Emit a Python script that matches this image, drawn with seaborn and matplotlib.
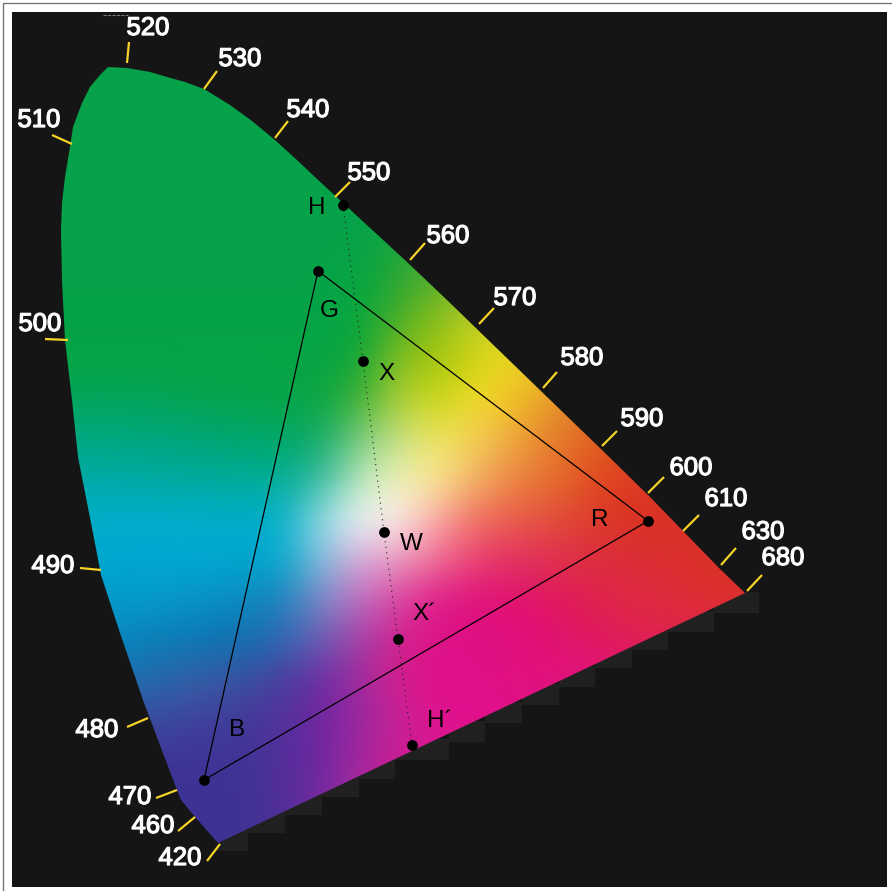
import numpy as np
import pandas as pd
import matplotlib
matplotlib.use('Agg')
import matplotlib.pyplot as plt
import matplotlib.patheffects as pe
from matplotlib.colors import to_rgb
from matplotlib.patches import Polygon, Rectangle
import seaborn as sns

G0 = '#06a24a'
# colour every 40 px (x 40..800, y 40..880)
row_040 = [G0] * 20
row_080 = [G0] * 20
row_120 = [G0] * 20
row_160 = [G0] * 20
row_200 = [G0] * 20
row_240 = [G0] * 9 + ['#1aa63c', '#40a836'] + ['#40a836'] * 9
row_280 = [G0] * 8 + ['#05a640', '#2ba635', '#5fb12c', '#80b828'] + ['#80b828'] * 8
row_320 = ['#05a447'] * 8 + ['#05a63e', '#50ae25', '#90c118', '#c8d030'] + ['#d8d020'] * 8
row_360 = ['#05a445'] * 8 + ['#11a638', '#8abf1e', '#a5c60d', '#d8d90e', '#eed82a', '#f3c020'] + ['#f0a020'] * 6
row_400 = ['#03a55a', '#02a55a', '#03a55c', '#04a558', '#05a550', '#06a54c', '#07a648', '#0aa545', '#40b030',
           '#b6d03a', '#ccd810', '#f8dc30', '#f0b820', '#e29030', '#e06a25'] + ['#e06a25'] * 5
row_440 = ['#00a882', '#00a882', '#00a880', '#00a680', '#00a577', '#00a66f', '#00a768', '#10aa68', '#7ccd82',
           '#c8e088', '#f4e660', '#f2cc58', '#eda03a', '#e5762a', '#e0601f', '#dc4a22'] + ['#dc4a22'] * 4
row_480 = ['#00aaa8', '#00aaa8', '#00a9a8', '#00aaa0', '#00aa9e', '#00ac98', '#00ae98', '#30b8a0', '#c0e8c0',
           '#f4f4b8', '#f8e890', '#f2aa60', '#ec8040', '#e56a2a', '#e0451f', '#dc3a22', '#dc3526'] + ['#dc3526'] * 3
row_520 = ['#00aec8', '#00aec8', '#00aed0', '#00aecf', '#00aecf', '#00aecc', '#00aece', '#95dce6', '#f4fafa',
           '#fdf0f0', '#fba0a0', '#f06a5a', '#e85a48', '#e04a38', '#db3a28', '#da3022', '#dc3226', '#dc3226'] + ['#dc3226'] * 2
row_560 = ['#00a8cc', '#00a8cc', '#00a6d0', '#00a8d0', '#00a8d0', '#00a8d0', '#00a8cc', '#80c0dc', '#dca8dc',
           '#e898b8', '#f06a90', '#e83c70', '#e13060', '#e03050', '#dd2e40', '#db2e35', '#dc3030', '#dc3228'] + ['#dc3228'] * 2
row_600 = ['#009ccc', '#009ccc', '#049ccc', '#089ac8', '#0a92c4', '#0c8abf', '#1a80bc', '#7a88c8', '#c070c0',
           '#de40a0', '#dc1888', '#e0107a', '#e01070', '#e01858', '#e0224c', '#e02a44', '#de2d38', '#dd302e'] + ['#dd302e'] * 2
row_640 = ['#0a84bc', '#0a84bc', '#0a84bc', '#0a7cb6', '#0a76b4', '#1070b0', '#2a68b0', '#6a60b4', '#a43fa8',
           '#d0208c', '#e01088', '#e01086', '#e0107e', '#e01470', '#e01a60', '#e02050'] + ['#e02050'] * 4
row_680 = ['#1a70b0', '#1a70b0', '#1a70b0', '#2868a8', '#3a5ea4', '#3a52a0', '#4a3e9c', '#6a2aa0', '#a12ba0',
           '#d81e88', '#e0108a', '#e0108a', '#e0127c'] + ['#e0127c'] * 7
row_720 = ['#3c4a9e'] * 4 + ['#40409c', '#403a98', '#50329c', '#7026a0', '#9a28a0', '#c72498', '#e0108c'] + ['#e0108c'] * 9
row_760 = ['#3e3496'] * 5 + ['#403496', '#50309a', '#7026a0', '#a428a0', '#d01a90', '#d8188c'] + ['#d8188c'] * 9
row_800 = ['#3d3394'] * 6 + ['#4f2f98', '#7028a0', '#a82a9c', '#d01a90'] + ['#d01a90'] * 10
row_840 = list(row_800)
row_880 = list(row_800)
colour_rows = [row_040, row_080, row_120, row_160, row_200, row_240, row_280, row_320, row_360, row_400, row_440,
               row_480, row_520, row_560, row_600, row_640, row_680, row_720, row_760, row_800, row_840, row_880]

locus_x = [108, 127, 150, 167, 185, 204, 230, 252, 275, 298, 316, 343, 407, 447, 480, 543, 602, 650, 684, 720, 745,
           218, 195, 181, 177, 158, 143, 120, 101, 93, 78, 72, 65, 62, 61, 62, 65, 70, 73, 82, 90, 100]
locus_y = [67, 68, 72, 77, 82, 89, 105, 121, 140, 161, 178, 203, 262, 300, 332, 393, 450, 497, 532, 569, 593,
           843, 817, 800, 790, 740, 700, 633, 575, 533, 457, 400, 340, 280, 230, 203, 177, 147, 127, 103, 87, 75]

wave_labels = ['520', '530', '540', '550', '560', '570', '580', '590', '600', '610', '630', '680',
               '510', '500', '490', '480', '470', '460', '420']
label_x = [148, 240, 308, 369, 448, 515, 582, 642, 691, 726, 763, 783, 39, 40, 53, 97, 130, 153, 180]
label_y = [28, 59, 110, 173, 236, 298, 358, 419, 468, 499, 532, 558, 120, 324, 566, 730, 797, 826, 858]
tick_x0 = [129, 217, 288, 350, 425, 494, 557, 617, 664, 699, 736, 762, 52, 45, 80, 127, 156, 178, 207]
tick_y0 = [42, 71, 121, 182, 243, 308, 372, 431, 477, 515, 548, 575, 135, 339, 568, 727, 798, 831, 861]
tick_x1 = [127, 204, 275, 335, 410, 479, 543, 602, 648, 683, 721, 747, 72, 68, 101, 148, 177, 195, 220]
tick_y1 = [63, 89, 138, 197, 260, 324, 388, 446, 493, 531, 565, 591, 144, 340, 570, 718, 790, 817, 844]

point_names = ['G', 'H', 'X', 'W', 'X´', 'H´', 'R', 'B']
point_x = [318, 343, 363, 384, 398, 412, 648, 204]
point_y = [271, 205, 361, 532, 639, 745, 521, 780]
name_x = [329, 317, 387, 411, 425, 440, 600, 237]
name_y = [311, 208, 374, 544, 614, 721, 520, 730]

# shadow steps under the purple edge
step_right = [759, 714, 668, 632, 595, 559, 522, 485, 449, 395, 359, 322, 285, 248]
step_bottom = [613, 632, 650, 668, 687, 705, 723, 742, 760, 779, 797, 815, 833, 851]
step_left = step_right[1:] + [218]

sns.set_style('white')
plt.rcParams['font.family'] = ['Liberation Sans', 'DejaVu Sans']

fig = plt.figure(figsize=(8.92, 8.91), dpi=100, facecolor='white')
ax = fig.add_axes([0, 0, 1, 1])
ax.set_xlim(0, 892)
ax.set_ylim(891, 0)
ax.axis('off')

ax.add_patch(Rectangle((12, 12), 875, 875, fc='#151515', ec='none', zorder=1))
ax.plot([3, 3, 892], [891, 3, 3], color='#777777', lw=1, zorder=1)
ax.plot([103, 128], [15, 15], color='#777777', lw=0.8, ls=(0, (3, 1)), zorder=2)

for l, r, b in zip(step_left, step_right, step_bottom):
    ax.add_patch(Rectangle((l, b - 21), r - l, 21, fc='#202020', ec='none', zorder=2))

rgb = np.array([[to_rgb(c) for c in row] for row in colour_rows])
im = ax.imshow(rgb, extent=(20, 820, 900, 20), interpolation='bicubic', aspect='auto', zorder=3)
ax.set_xlim(0, 892)
ax.set_ylim(891, 0)
outline = Polygon(np.column_stack([locus_x, locus_y]), closed=True, transform=ax.transData, fc='none', ec='none')
ax.add_patch(outline)
im.set_clip_path(outline)

for x0, y0, x1, y1 in zip(tick_x0, tick_y0, tick_x1, tick_y1):
    ax.plot([x0, x1], [y0, y1], color='#f5d327', lw=1.6, zorder=4, solid_capstyle='butt')

tri = pd.DataFrame({'x': [point_x[0], point_x[6], point_x[7], point_x[0]],
                    'y': [point_y[0], point_y[6], point_y[7], point_y[0]]})
sns.lineplot(data=tri, x='x', y='y', sort=False, color='black', lw=0.9, estimator=None, ax=ax, zorder=5)
hline = pd.DataFrame({'x': point_x[1:6], 'y': point_y[1:6]})
sns.lineplot(data=hline, x='x', y='y', sort=False, color='#222222', lw=0.8, estimator=None,
             linestyle=(0, (1, 4)), ax=ax, zorder=5)
pts = pd.DataFrame({'x': point_x, 'y': point_y})
sns.scatterplot(data=pts, x='x', y='y', color='black', s=60, linewidth=0, ax=ax, zorder=6)
ax.set_xlabel('')
ax.set_ylabel('')

for t, x, y in zip(wave_labels, label_x, label_y):
    ax.text(x, y, t, color='white', fontsize=18.5, ha='center', va='center', zorder=7,
            path_effects=[pe.withStroke(linewidth=0.9, foreground='white')])
for t, x, y in zip(point_names, name_x, name_y):
    ax.text(x, y, t, color='black', fontsize=17.5, ha='center', va='center', zorder=7)

fig.savefig('out.png', dpi=100)
